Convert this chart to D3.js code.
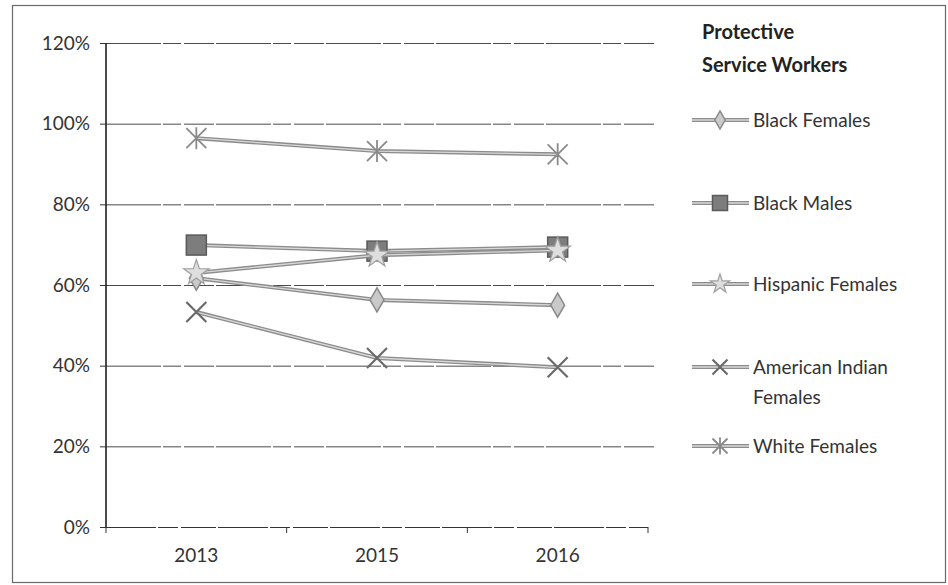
<!DOCTYPE html>
<html><head><meta charset="utf-8">
<script src="https://cdn.jsdelivr.net/npm/d3@7"></script>
<style>body{margin:0;background:#fff}svg{display:block}</style>
</head><body><svg id="c" width="948" height="585"></svg>
<script>
const years = ["2013", "2015", "2016"];
const blackFemales = [0.617, 0.563, 0.550];
const blackMales = [0.699, 0.684, 0.694];
const hispanicFemales = [0.630, 0.674, 0.686];
const americanIndianFemales = [0.533, 0.419, 0.396];
const whiteFemales = [0.964, 0.932, 0.924];
const yTicks = [0, 0.2, 0.4, 0.6, 0.8, 1.0, 1.2];
const legendTitle = ["Protective", "Service Workers"];
const seriesNames = ["Black Females", "Black Males", "Hispanic Females", "American Indian Females", "White Females"];

const series = [
  {name: seriesNames[0], values: blackFemales, marker: "diamond", fill: "#c9c9c9", stroke: "#8a8a8a"},
  {name: seriesNames[1], values: blackMales, marker: "square", fill: "#7d7d7d", stroke: "#5a5a5a"},
  {name: seriesNames[2], values: hispanicFemales, marker: "triangle", fill: "#dedede", stroke: "#a0a0a0"},
  {name: seriesNames[3], values: americanIndianFemales, marker: "x", fill: "none", stroke: "#6a6a6a"},
  {name: seriesNames[4], values: whiteFemales, marker: "asterisk", fill: "none", stroke: "#8a8a8a"}
];

const svg = d3.select("#c");
const font = "Lato, 'Open Sans', sans-serif";

// outer border
svg.append("rect").attr("x", 12.5).attr("y", 5.5).attr("width", 933).attr("height", 577)
  .attr("fill", "none").attr("stroke", "#6a6a6a").attr("stroke-width", 1.2);

const x0 = 106, x1 = 648, yTop = 43, yBot = 527;
const x = d3.scalePoint().domain(years).range([x0, x1]).padding(0.5);
const y = d3.scaleLinear().domain([0, 1.2]).range([yBot, yTop]);

// gridlines
svg.append("g").selectAll("line").data(yTicks.filter(d => d > 0)).join("line")
  .attr("x1", x0).attr("x2", x1 + 8)
  .attr("y1", d => y(d) + 0.5).attr("y2", d => y(d) + 0.5)
  .attr("stroke", "#4a4a4a").attr("stroke-width", 1).attr("stroke-dasharray", "55,2,18,3,30,2");

// y axis
const yAxis = svg.append("g").attr("transform", `translate(${x0},0)`)
  .call(d3.axisLeft(y).tickValues(yTicks).tickFormat(d3.format(".0%")).tickSize(6).tickPadding(10));
yAxis.select(".domain").attr("stroke", "#111").attr("stroke-width", 1.5).attr("d", `M0,${yTop}V${yBot}`);
yAxis.selectAll(".tick line").attr("stroke", "#333");
yAxis.selectAll("text").attr("font-family", font).attr("font-size", 19).attr("fill", "#333");

// x axis
const xAxisG = svg.append("g").attr("transform", `translate(0,${yBot})`);
xAxisG.append("line").attr("x1", x0).attr("x2", x1).attr("y1", 0.5).attr("y2", 0.5)
  .attr("stroke", "#333").attr("stroke-width", 1).attr("stroke-dasharray", "50,2,20,3,35,2");
const step = x.step();
const bounds = [x0].concat(years.map(d => x(d) + step / 2));
xAxisG.selectAll("line.tk").data(bounds).join("line").attr("class", "tk")
  .attr("x1", d => d).attr("x2", d => d).attr("y1", 0).attr("y2", 6).attr("stroke", "#333");
xAxisG.selectAll("text").data(years).join("text")
  .attr("x", d => x(d)).attr("y", 35).attr("text-anchor", "middle")
  .attr("font-family", font).attr("font-size", 19).attr("fill", "#333").text(d => d);

function drawMarker(g, type, s, fill, stroke) {
  if (type === "diamond") {
    g.append("path").attr("d", d3.symbol(d3.symbolDiamond, s * s * 0.42)())
      .attr("fill", fill).attr("stroke", stroke).attr("stroke-width", 1.5);
  } else if (type === "square") {
    g.append("rect").attr("x", -s / 2).attr("y", -s / 2).attr("width", s).attr("height", s)
      .attr("fill", fill).attr("stroke", stroke).attr("stroke-width", 1.5);
  } else if (type === "triangle") {
    g.append("path").attr("d", d3.symbol(d3.symbolStar, s * s * 0.5)())
      .attr("fill", fill).attr("stroke", stroke).attr("stroke-width", 1.2);
  } else if (type === "x") {
    const h = s / 2;
    g.append("path").attr("d", `M${-h},${-h}L${h},${h}M${-h},${h}L${h},${-h}`)
      .attr("stroke", stroke).attr("stroke-width", 2.2).attr("fill", "none");
  } else if (type === "asterisk") {
    const h = s / 2;
    g.append("path").attr("d", `M${-h},${-h}L${h},${h}M${-h},${h}L${h},${-h}M0,${-h - 1}L0,${h + 1}`)
      .attr("stroke", stroke).attr("stroke-width", 1.8).attr("fill", "none");
  }
}

const line = d3.line().x((d, i) => x(years[i])).y(d => y(d));
series.forEach(sr => {
  const g = svg.append("g");
  g.append("path").datum(sr.values).attr("d", line).attr("fill", "none")
    .attr("stroke", "#8c8c8c").attr("stroke-width", 4);
  g.append("path").datum(sr.values).attr("d", line).attr("fill", "none")
    .attr("stroke", "#d8d8d8").attr("stroke-width", 1.3);
  sr.values.forEach((v, i) => {
    const mg = g.append("g").attr("transform", `translate(${x(years[i])},${y(v)})`);
    drawMarker(mg, sr.marker, 20, sr.fill, sr.stroke);
  });
});

// legend title
const lt = svg.append("text").attr("x", 702).attr("font-family", font).attr("font-weight", "bold")
  .attr("font-size", 20).attr("fill", "#222");
lt.selectAll("tspan").data(legendTitle).join("tspan").attr("x", 702)
  .attr("y", (d, i) => 39 + i * 33).text(d => d);

// legend entries
const legY = [120, 203, 284, 367, 446];
series.forEach((sr, i) => {
  const g = svg.append("g").attr("transform", `translate(0,${legY[i]})`);
  g.append("line").attr("x1", 692).attr("x2", 749).attr("y1", 0).attr("y2", 0)
    .attr("stroke", "#8c8c8c").attr("stroke-width", 4);
  g.append("line").attr("x1", 692).attr("x2", 749).attr("y1", 0).attr("y2", 0)
    .attr("stroke", "#d8d8d8").attr("stroke-width", 1.3);
  const mg = g.append("g").attr("transform", "translate(720,0)");
  drawMarker(mg, sr.marker, 15, sr.fill, sr.stroke);
  const words = sr.name === "American Indian Females" ? ["American Indian", "Females"] : [sr.name];
  const t = g.append("text").attr("font-family", font).attr("font-size", 19).attr("fill", "#333");
  t.selectAll("tspan").data(words).join("tspan").attr("x", 753).attr("y", (d, j) => 7 + j * 30).text(d => d);
});
</script></body></html>
